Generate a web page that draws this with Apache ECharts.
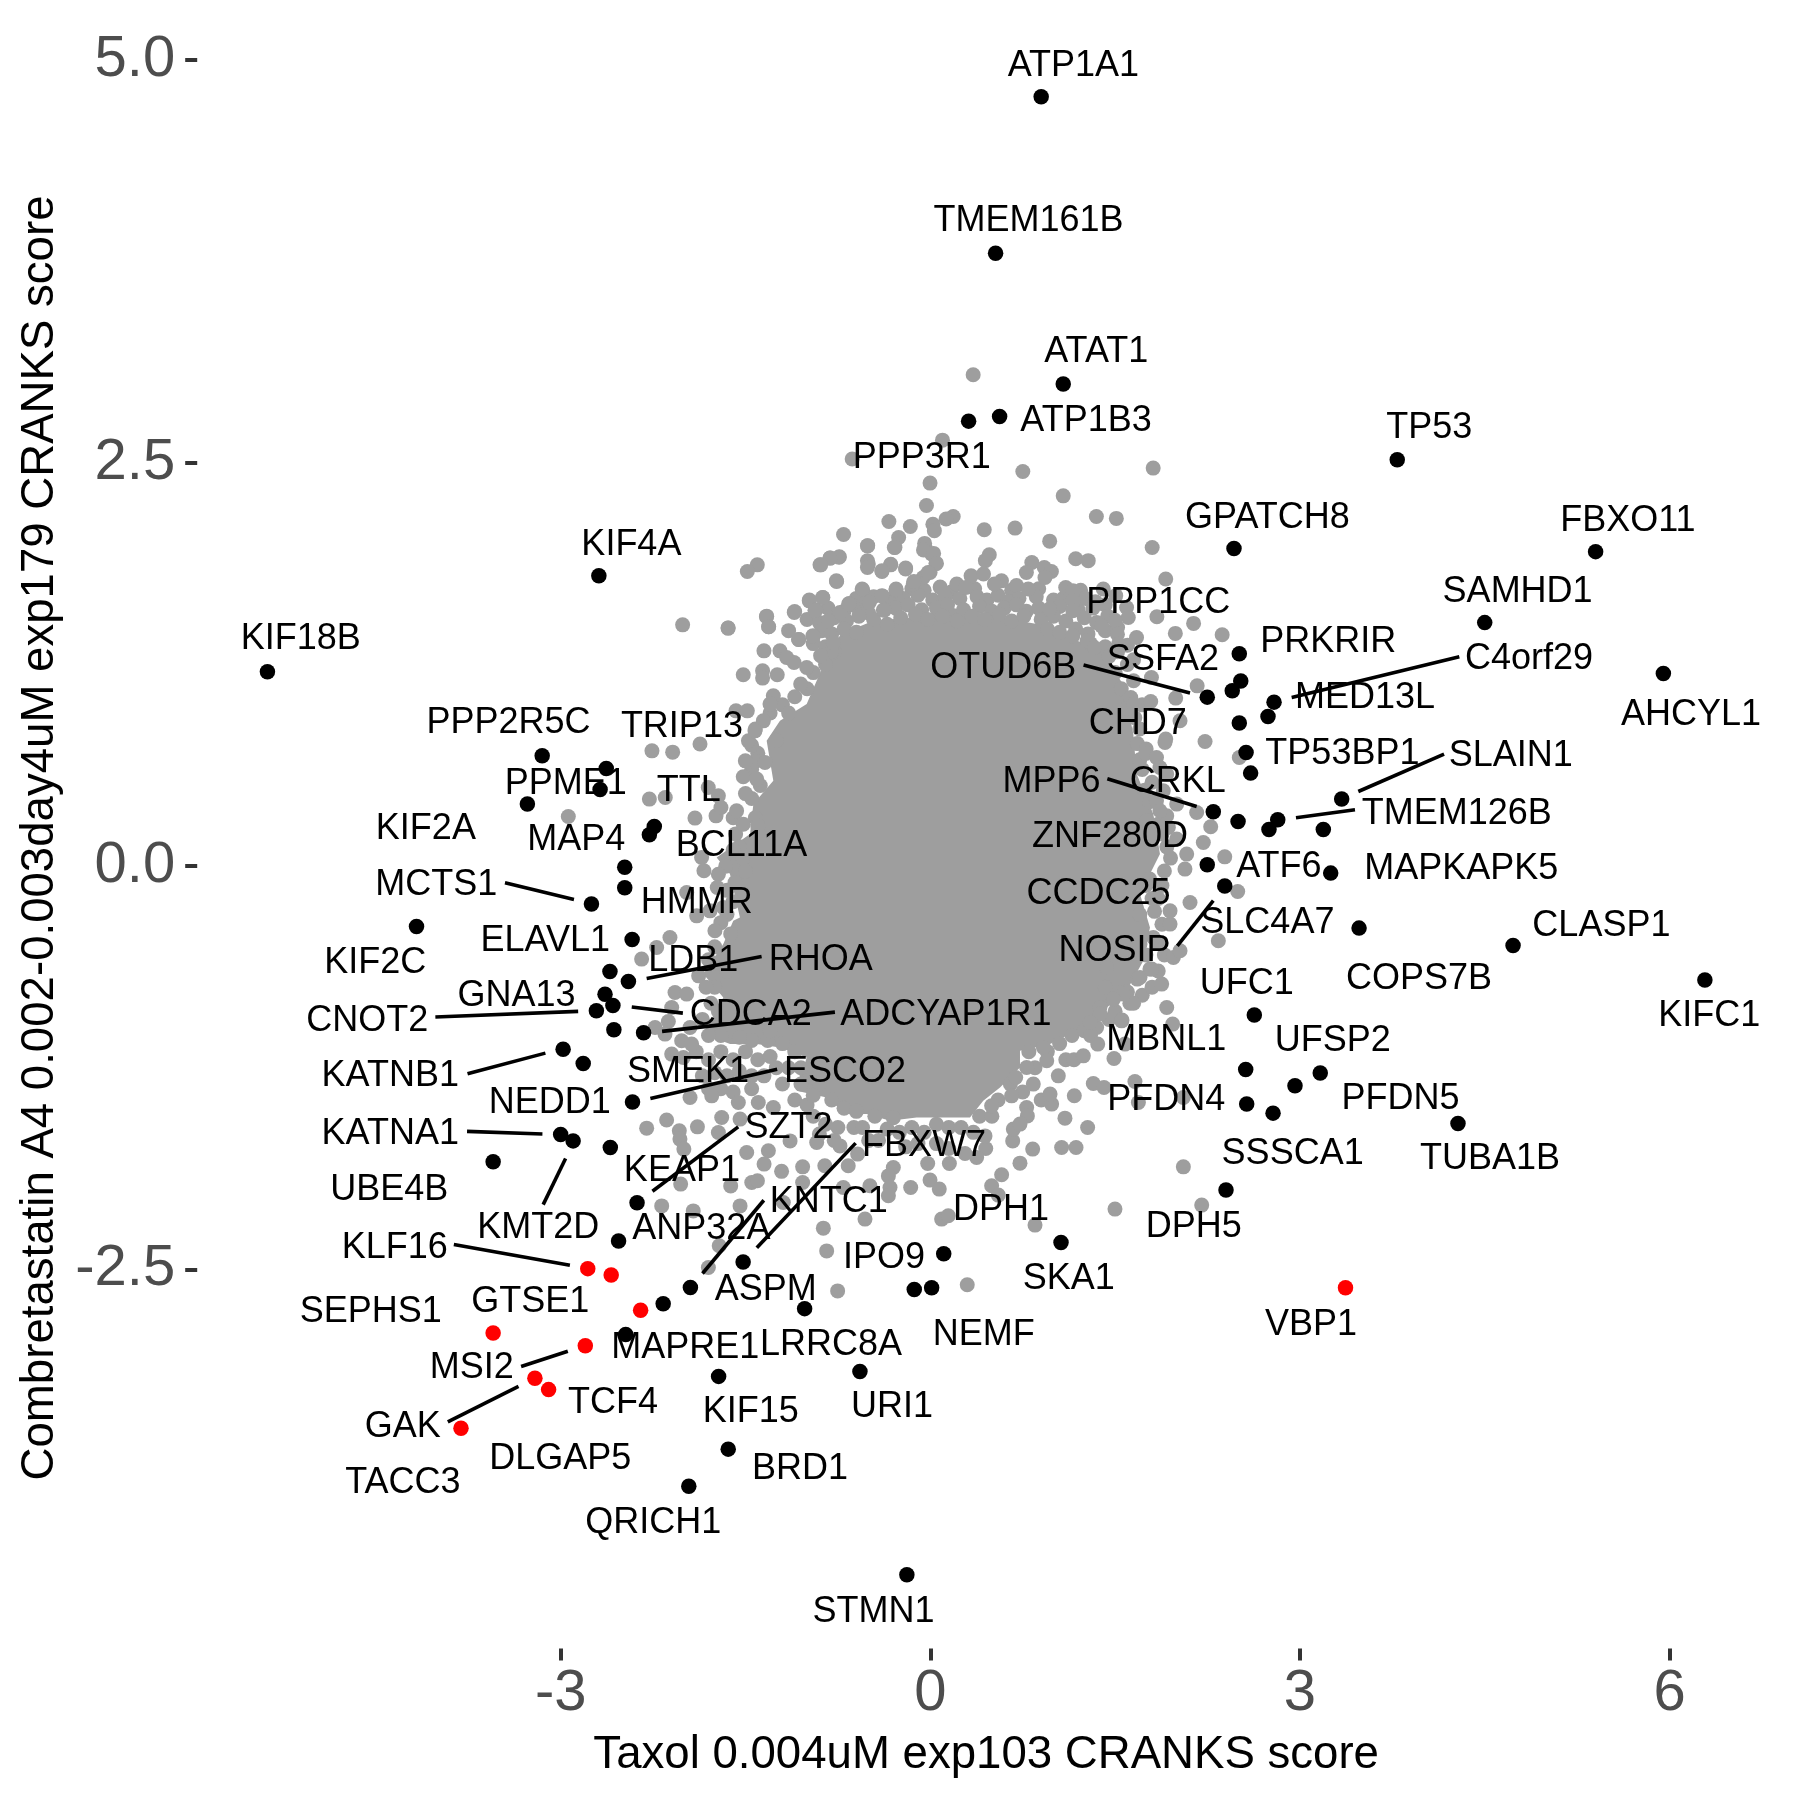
<!DOCTYPE html>
<html><head><meta charset="utf-8">
<style>html,body{margin:0;padding:0;background:#fff}#c{width:1800px;height:1800px}</style>
<script src="https://cdn.jsdelivr.net/npm/echarts@6/dist/echarts.min.js"></script>
</head><body><div id="c"></div>
<script>
const xTicks = [-3, 0, 3, 6];
const yTicks = [-2.5, 0, 2.5, 5];
const xTitle = 'Taxol 0.004uM exp103 CRANKS score';
const yTitle = 'Combretastatin A4 0.002-0.003day4uM exp179 CRANKS score';

const blackPoints = [
[0.90,4.77],[0.53,3.80],[1.079,2.989],[0.5625,2.788],[0.311,2.759],[3.79,2.52],[2.465,1.97],[5.40,1.95],[4.50,1.51],[5.95,1.195],
[-2.69,1.80],[-5.38,1.205],[-3.15,0.685],[-2.63,0.606],[-2.68,0.476],[-3.27,0.385],[-2.24,0.246],[-2.28,0.195],[-2.48,-0.006],[-2.48,-0.134],
[-2.75,-0.235],[-4.17,-0.374],[-2.42,-0.454],[-2.60,-0.653],[-2.45,-0.715],[-2.64,-0.794],[-2.576,-0.864],[-2.71,-0.896],[-2.568,-1.014],[-2.327,-1.033],
[-2.98,-1.135],[-2.817,-1.223],[-2.417,-1.462],[-3.0,-1.663],[-2.899,-1.703],[-2.597,-1.744],[-3.548,-1.833],[-2.38,-2.086],[-2.53,-2.324],[-1.519,-2.454],
[-1.947,-2.612],[-2.168,-2.713],[-2.472,-2.903],[-1.02,-2.743],[-1.718,-3.163],[-1.64,-3.614],[-1.96,-3.844],[-0.19,-4.393],[0.109,-2.403],[-0.13,-2.624],
[0.011,-2.614],[1.061,-2.333],[-0.571,-3.133],[2.508,1.317],[2.52,1.148],[2.451,1.087],[2.248,1.048],[2.79,1.017],[2.741,0.928],[2.508,0.887],
[2.563,0.705],[2.6,0.577],[3.339,0.416],[2.297,0.337],[2.498,0.277],[2.82,0.288],[2.749,0.228],[3.19,0.228],[2.248,0.009],[3.25,-0.043],
[2.39,-0.123],[3.48,-0.384],[2.63,-0.923],[4.73,-0.492],[6.287,-0.706],[3.165,-1.282],[2.56,-1.261],[2.96,-1.361],[2.568,-1.474],[2.782,-1.531],
[4.283,-1.595],[2.40,-2.008]
];

const redPoints = [
[-2.78,-2.495],[-2.59,-2.534],[-2.351,-2.753],[-3.548,-2.894],[-2.8,-2.973],[-3.209,-3.174],[-3.098,-3.245],[-3.809,-3.484],[3.37,-2.614]
];

const greyPoints = [
[-1.404,1.868],[-1.485,1.827],[-2.01,1.496],[-1.642,1.476],[-1.328,1.55],[-1.312,1.484],[-1.101,1.579],[-0.76,1.765],[-0.895,1.868],[-0.814,1.91],
[-0.738,1.918],[-1.068,1.406],[-0.949,1.426],[-0.982,1.645],[-0.874,1.666],[-0.928,1.588],[-1.35,1.335],[-1.518,1.187],[-1.361,1.211],[-1.361,1.166],
[-1.242,1.187],[-1.22,1.335],[-1.166,1.294],[-1.106,1.263],[-1.052,1.129],[-1.003,1.232],[-0.89,1.305],[-0.787,1.387],[-0.657,1.629],[-0.549,1.712],
[-0.503,1.873],[-0.508,1.987],[-0.392,1.827],[-0.322,1.868],[-0.2,1.843],[-0.278,1.712],[-0.387,1.674],[-0.381,1.588],[-0.517,1.635],[-0.733,1.573],
[-0.828,1.521],[-0.138,1.749],[-0.057,1.79],[-0.002,1.821],[0.046,1.877],[0.011,1.935],[-0.043,1.976],[-0.287,1.976],[-1.577,0.963],[-1.485,0.963],
[-1.355,0.901],[-1.274,1.056],[-1.301,1.005],[-1.476,0.777],[-1.423,0.839],[-1.869,0.757],[-2.259,0.715],[-2.091,0.707],[-1.501,0.653],[-1.342,0.643],
[-1.518,0.554],[-1.409,0.54],[-1.802,0.488],[-1.72,0.436],[-2.28,0.416],[-2.151,0.426],[-1.91,0.298],[-1.739,0.312],[-1.699,0.364],[-1.572,0.343],
[-1.518,0.26],[-1.856,0.054],[-1.837,-0.028],[-1.977,-0.163],[-1.729,-0.132],[-1.585,-0.101],[-1.896,-0.308],[-1.788,-0.277],[-1.748,-0.4],[-2.113,-0.442],
[-1.68,-0.256],[-2.938,0.308],
[0.348,3.047],[0.099,2.641],[-0.634,2.524],[0.751,2.447],[1.809,2.468],[-0.002,2.375],[1.079,2.296],[-0.031,2.236],[1.348,2.168],[1.51,2.156],
[-0.336,2.137],[-0.162,2.106],[0.186,2.168],[0.128,2.152],[0.438,2.086],[0.688,2.096],[0.969,2.015],[1.801,1.976],[0.021,2.12],[0.033,2.08],
[-0.704,2.056],[-0.51,1.986],[-0.257,2.038],[-0.292,1.976],[-0.046,2.001],[-0.055,1.96],[0.027,1.939],[0.05,1.877],[0.479,1.931],[0.447,1.894],
[1.18,1.906],[1.282,1.894],[0.824,1.883],[0.925,1.852],[0.983,1.827],[0.78,1.821],[0.931,1.79],[1.911,1.78],[-0.741,1.915],[-0.813,1.91],
[-0.889,1.868],[-0.51,1.893],[-0.51,1.852],[-0.321,1.872],[-0.393,1.831],[-0.2,1.848],[-0.017,1.821],[-0.133,1.765],[-0.762,1.769],[0.331,1.8],
[0.432,1.811],[0.578,1.769],[0.52,1.749],[0.795,1.718],[1.099,1.728],[1.157,1.707],[1.404,1.718],[1.505,1.677],[-0.553,1.718],[-0.278,1.718],
[0.215,1.749],[0.288,1.728],[-0.872,1.666],[-0.982,1.65],[-0.936,1.587],[-1.104,1.573],[-0.393,1.677],[-0.495,1.635],[-0.373,1.587],[-0.663,1.625],
[-1.33,1.547],[-1.312,1.484],[-1.64,1.476],[-0.953,1.428],[-1.069,1.406],[0.969,1.594],[1.157,1.646],[1.157,1.584],[1.593,1.604],[1.607,1.542],
[1.839,1.546],[1.39,1.49],[1.5,1.525],[2.137,1.505],[1.989,1.443],[2.369,1.435],[1.519,1.438],[1.528,1.377],[1.674,1.418],[1.157,1.428],
[1.273,1.397],[1.331,1.356],[2.166,1.118],[1.992,1.042],[1.795,1.17],[1.789,1.021],[1.627,1.046],[1.65,1.005],[2.027,0.902],[2.23,0.773],
[1.911,0.788],[1.752,0.726],
[1.748,0.699],[2.508,0.674],[1.905,0.767],[2.162,0.333],[2.276,0.244],[2.216,0.147],[2.081,0.075],[1.919,0.313],[1.932,0.24],[2.0,0.168],
[2.067,-0.018],[2.39,0.058],[2.495,-0.157],[2.108,-0.225],[1.946,-0.359],[1.946,-0.277],[2.338,-0.462],[1.973,-0.566],[2.027,-0.524],[1.878,-0.731],
[1.919,-0.876],[1.553,-0.959],[1.54,-0.783],[1.702,-0.69],[1.783,-0.638],[1.431,-0.628],[1.702,-0.483],[1.81,-0.442],[1.377,-0.876],[1.836,0.674],
[1.864,0.612],[1.919,0.571],[1.891,0.468],[1.836,0.405],[2.0,0.385],[1.864,0.344],[1.756,0.282],
[1.967,-0.979],[1.556,-0.954],[1.359,-1.103],[1.58,-1.103],[1.491,-1.192],[1.166,-1.2],[1.242,-1.176],[1.323,-1.347],[1.41,-1.372],[1.661,-1.335],
[1.689,-1.465],[2.054,-1.434],[1.169,-1.423],[0.985,-1.475],[1.093,-1.562],[1.277,-1.62],[1.066,-1.744],[1.183,-1.744],[0.831,-1.754],[0.728,-1.841],
[0.579,-1.913],[0.498,-1.981],[0.552,-2.039],[0.669,-1.703],[2.054,-1.864],[1.499,-2.126],[2.203,-2.101],[0.85,-2.225],[0.693,-1.31],[0.782,-1.496],
[0.788,-1.548],[0.674,-1.63],[0.728,-1.599],[0.66,-1.424],[0.972,-1.413],[1.039,-1.3],[0.836,-1.351],[0.945,-1.206],[0.782,-1.248],[0.918,-1.124],
[0.444,-1.672],[0.376,-1.806],[0.282,-1.781],[0.498,-1.485],[1.797,-0.638],[1.567,-0.793],[1.486,-0.824],[1.378,-0.917],[1.296,-0.969],
[-2.221,-0.504],[-2.343,-0.576],[-2.072,-0.783],[-1.977,-0.793],[-2.099,-0.876],[-2.126,-0.963],[-2.234,-1.0],[-2.153,-1.041],[-2.018,-1.082],[-1.937,-1.103],
[-2.099,-1.165],[-2.004,-1.186],[-1.95,-1.434],[-1.774,-1.424],[-1.558,-1.465],[-1.396,-1.465],[-1.274,-1.496],[-2.14,-1.574],[-2.302,-1.624],[-2.037,-1.64],
[-1.89,-1.616],[-2.032,-1.692],[-2.0,-1.754],[-1.693,-1.558],[-1.72,-1.651],[-1.544,-1.568],[-1.49,-1.775],[-1.314,-1.764],[-1.349,-1.847],[-1.138,-1.703],
[-0.922,-1.713],[-1.207,-1.892],[-1.036,-1.864],[-0.856,-1.857],[-0.666,-1.857],[-0.733,-1.734],[-0.59,-1.785],[-0.42,-1.7],[-0.3,-1.868],[-0.34,-1.92],
[-0.327,-1.992],[-0.34,-2.043],[-0.159,-1.992],[-0.021,-1.843],[0.155,-1.843],[-0.002,-1.946],[0.073,-2.002],[0.092,-2.188],[0.146,-2.167],[-0.53,-2.188],
[-0.868,-2.244],[-0.49,-1.981],[-0.706,-1.992],[-1.036,-1.961],[-1.544,-2.106],[-1.924,-2.137],[-2.18,-2.106],[-2.026,-1.971],[-1.62,-1.982],[-1.449,-1.961],
[-1.403,-1.95],[-1.193,-2.085],[-0.841,-2.385],[-0.752,-2.633],[0.3,-2.595],[-1.801,-2.488],[-1.713,-2.353]
];

// Dense band of grey points around the solid mass, read by eye
const greyRim = [
[-0.15,1.72],[-0.05,1.71],[0.08,1.73],[0.17,1.7],[0.36,1.72],[0.66,1.71],[0.7,1.74],[0.88,1.72],[1.22,1.71],
[-0.6,1.66],[-0.46,1.67],[-0.33,1.65],[-0.22,1.66],[-0.1,1.68],[0.02,1.65],[0.12,1.67],[0.24,1.66],[0.38,1.67],[0.46,1.65],[0.55,1.68],[0.63,1.64],[0.72,1.66],[0.86,1.67],[1.0,1.65],[1.08,1.66],[1.26,1.66],[1.34,1.64],
[-0.83,1.6],[-0.7,1.58],[-0.6,1.61],[-0.5,1.57],[-0.28,1.6],[-0.18,1.62],[-0.07,1.59],[0.05,1.6],[0.14,1.62],[0.27,1.59],[0.4,1.61],[0.5,1.58],[0.6,1.6],[0.7,1.62],[0.78,1.58],[0.88,1.6],[1.05,1.61],[1.2,1.59],[1.32,1.6],[1.42,1.62],
[-1.0,1.53],[-0.9,1.51],[-0.78,1.54],[-0.68,1.52],[-0.58,1.55],[-0.46,1.53],[-0.35,1.5],[-0.24,1.54],[-0.12,1.56],[-0.02,1.53],[0.1,1.55],[0.22,1.52],[0.34,1.55],[0.44,1.53],[0.56,1.56],[0.66,1.52],[0.76,1.55],[0.9,1.53],[1.0,1.55],[1.1,1.52],[1.25,1.54],[1.35,1.51],[1.44,1.55],
[-1.15,1.46],[-0.88,1.46],[-0.8,1.44],[-0.7,1.47],[-0.6,1.45],[0.95,1.47],[1.05,1.45],[1.18,1.47],[1.28,1.44],[1.42,1.46],[1.52,1.48],
[-0.95,1.38],[-0.85,1.36],[-0.78,1.33],[1.3,1.38],[1.42,1.36],[1.5,1.33],[1.6,1.37],
[-1.3,0.95],[-1.2,1.0],[-1.1,1.05],[-1.0,1.1],[-0.95,1.2],[-0.85,1.25],[-0.8,1.33],[-1.15,0.95],[-1.4,0.7],[-1.45,0.6],[-1.38,0.5],[-1.45,0.42],[-1.58,0.2],[-1.6,0.3],[-1.55,0.12],[-1.66,0.0],[-1.72,-0.05],[-1.65,-0.15],[-1.6,-0.22],[-1.75,-0.5],[-1.8,-0.58],[-1.88,-0.68],[-1.75,-0.75],[-1.78,-0.85],[-1.85,-0.95],[-1.95,-1.0],[-1.72,-0.9],
[-1.45,0.75],[-1.42,0.65],[-1.5,0.45],[-1.42,0.3],[-1.4,0.25],[-1.6,0.1],[-1.52,0.05],[-1.5,-0.03],[-1.42,0.85],[-1.25,0.78],[-1.65,-0.3],[-1.7,-0.35],[-1.62,-0.42],[-1.72,-0.6],[-1.65,-0.65],[-1.82,-0.75],
[-1.9,-1.15],[-1.8,-1.2],[-1.7,-1.15],[-1.6,-1.2],[-1.5,-1.15],[-1.4,-1.2],[-1.3,-1.18],[-1.85,-1.3],[-1.75,-1.28],[-1.65,-1.3],[-1.55,-1.27],[-1.45,-1.3],[-1.35,-1.3],[-1.25,-1.25],[-1.8,-1.38],[-1.7,-1.38],[-1.6,-1.4],[-1.45,-1.38],[-1.2,-1.35],[-1.15,-1.25],[-1.1,-1.45],[-1.0,-1.48],[-0.95,-1.55],[-0.85,-1.6],[-0.75,-1.62],[-0.9,-1.66],[-0.78,-1.7],[-0.62,-1.62],[-0.55,-1.62],[-0.5,-1.7],[-0.35,-1.63],[-0.25,-1.65],[-0.15,-1.62],[-0.05,-1.65],[0.05,-1.6],[0.15,-1.62],[0.25,-1.62],[0.35,-1.65],[0.4,-1.55],[0.5,-1.55],[0.55,-1.45],[0.65,-1.35],[0.45,-1.75],[-0.2,-1.74],[-0.1,-1.72],[0.05,-1.72],[0.15,-1.75],
[-1.0,-1.3],[-0.9,-1.35],[-0.95,-1.42],[-0.8,-1.45],[-0.7,-1.5],[-0.6,-1.52],[-0.45,-1.55],[-0.3,-1.56],[-1.1,-1.15],[-1.2,-1.1],[-1.32,-1.08],[-1.45,-1.08],[-1.55,-1.06],[-1.7,-1.05],[-1.8,-1.05],[-1.05,-1.25],[-1.05,-1.35],[-1.3,-1.02],
[0.8,-1.15],[0.85,-1.25],[0.95,-1.15],[1.05,-1.1],[1.15,-1.05],[1.25,-1.02],[1.35,-1.0],[1.1,-1.2],[0.75,-1.4],[0.9,-1.45],
[1.5,-0.9],[1.62,-0.85],[1.72,-0.8],[1.8,-0.75],[1.85,-0.65],[1.9,-0.55],[1.85,-0.48],[1.88,-0.36],[1.82,-0.28],[1.8,-0.2],[1.88,-0.12],[1.78,-0.08],[1.9,-0.03],[1.95,0.05],[1.92,0.12],[1.88,0.2],[1.85,0.26],[1.78,0.4],[1.74,0.47],[1.8,0.52],[1.72,0.6],[1.7,0.66],[1.68,0.76],[1.7,0.85],[1.66,0.92],[1.6,0.98],[1.72,1.0],[1.55,1.1],[1.65,1.15],[1.5,1.2],[1.6,1.25],[1.45,1.3],[1.52,1.33],[1.65,1.28],
[1.75,-0.55],[1.68,-0.7],[1.6,-0.78],[1.45,-0.95],[1.3,-1.05],[1.7,-0.3],[1.85,-0.2],[1.75,-0.12],[1.65,-0.85],[1.42,-0.75]
];

// Outline of the region where grey points overlap into a solid mass
const coreOutline = [
[-0.727,1.438],[-0.462,1.521],[-0.147,1.542],[0.187,1.6],[0.5,1.55],[0.867,1.501],[1.389,1.336],[1.563,1.129],[1.648,0.819],[1.675,0.571],[1.81,0.323],[1.864,0.075],
[1.702,-0.173],[1.783,-0.38],[1.729,-0.587],[1.594,-0.773],[1.242,-1.0],[0.972,-1.103],[0.728,-1.144],[0.728,-1.248],[0.566,-1.372],[0.43,-1.454],[0.322,-1.558],
[-0.111,-1.558],[-0.327,-1.578],[-0.516,-1.537],[-0.679,-1.537],[-0.841,-1.434],[-1.085,-1.392],[-1.003,-1.186],[-1.22,-1.124],[-1.409,-1.103],[-1.625,-1.103],[-1.842,-1.041],
[-1.68,-0.814],[-1.842,-0.669],[-1.68,-0.483],[-1.599,-0.339],[-1.545,-0.318],[-1.626,-0.049],[-1.734,0.054],[-1.463,0.199],[-1.436,0.385],[-1.274,0.53],[-1.328,0.777],[-1.22,0.901],[-1.003,1.005],[-0.841,1.294]
];

const geneLabels = [
['ATP1A1',1.161,4.967],['TMEM161B',0.798,4.006],['ATAT1',1.347,3.194],['ATP1B3',1.264,2.767],['PPP3R1',-0.069,2.54],['TP53',4.05,2.725],['GPATCH8',2.736,2.169],['FBXO11',5.662,2.148],
['KIF4A',-2.426,1.999],['SAMHD1',4.767,1.707],['PPP1CC',1.851,1.643],['PRKRIR',3.23,1.401],['KIF18B',-5.11,1.415],['C4orf29',4.86,1.294],['SSFA2',1.888,1.287],['OTUD6B',0.593,1.237],
['MED13L',3.528,1.052],['AHCYL1',6.174,0.945],['CHD7',1.683,0.888],['PPP2R5C',-3.423,0.895],['TRIP13',-2.016,0.874],['TP53BP1',3.345,0.703],['SLAIN1',4.711,0.689],['PPME1',-2.958,0.518],
['MPP6',0.984,0.532],['CRKL',2.009,0.532],['TTL',-1.96,0.475],['TMEM126B',4.273,0.333],['KIF2A',-4.094,0.241],['ZNF280D',1.459,0.191],['MAP4',-2.874,0.169],['BCL11A',-1.532,0.134],
['ATF6',2.829,0.006],['MAPKAPK5',4.31,-0.009],['MCTS1',-4.01,-0.108],['CCDC25',1.366,-0.165],['HMMR',-1.895,-0.222],['SLC4A7',2.736,-0.343],['CLASP1',5.447,-0.364],['ELAVL1',-3.125,-0.457],
['NOSIP',1.496,-0.514],['LDB1',-1.923,-0.578],['RHOA',-0.889,-0.571],['KIF2C',-4.504,-0.592],['COPS7B',3.966,-0.692],['UFC1',2.568,-0.72],['GNA13',-3.358,-0.799],['CDCA2',-1.457,-0.912],
['ADCYAP1R1',0.127,-0.912],['CNOT2',-4.57,-0.948],['KIFC1',6.323,-0.92],['MBNL1',1.916,-1.069],['UFSP2',3.267,-1.076],['ESCO2',-0.693,-1.268],['SMEK1',-1.967,-1.268],['KATNB1',-4.383,-1.29],
['PFDN5',3.817,-1.432],['PFDN4',1.916,-1.439],['NEDD1',-3.088,-1.46],['SZT2',-1.15,-1.617],['KATNA1',-4.383,-1.653],['FBXW7',-0.05,-1.724],['SSSCA1',2.941,-1.774],['TUBA1B',4.543,-1.809],
['KEAP1',-2.016,-1.88],['UBE4B',-4.392,-2.001],['KNTC1',-0.824,-2.073],['DPH1',0.574,-2.122],['KMT2D',-3.181,-2.236],['DPH5',2.139,-2.229],['ANP32A',-1.858,-2.243],['KLF16',-4.346,-2.357],
['IPO9',-0.376,-2.421],['SKA1',1.124,-2.549],['ASPM',-1.336,-2.621],['GTSE1',-3.246,-2.692],['SEPHS1',-4.542,-2.756],['VBP1',3.09,-2.834],['NEMF',0.434,-2.898],['MAPRE1',-1.988,-2.977],
['LRRC8A',-0.805,-2.962],['MSI2',-3.722,-3.105],['TCF4',-2.575,-3.318],['KIF15',-1.457,-3.375],['URI1',-0.311,-3.347],['GAK',-4.281,-3.468],['DLGAP5',-3.004,-3.667],['BRD1',-1.057,-3.731],
['TACC3',-4.281,-3.816],['QRICH1',-2.249,-4.065],['STMN1',-0.46,-4.614]
];

const connectors = [
[1.244,1.247,2.108,1.073],[2.933,1.046,4.294,1.298],[3.474,0.463,4.17,0.695],[2.968,0.3,3.447,0.35],[1.437,0.542,2.162,0.37],[2.005,-0.494,2.297,-0.214],
[-3.452,-0.103,-2.892,-0.206],[-2.302,-0.696,-1.369,-0.56],[-4.017,-0.935,-2.858,-0.9],[-2.423,-0.873,-2.008,-0.911],[-2.177,-1.024,-0.774,-0.905],[-3.756,-1.287,-3.124,-1.159],
[-2.272,-1.441,-1.243,-1.259],[-3.76,-1.644,-3.148,-1.66],[-2.96,-1.812,-3.142,-2.098],[-2.255,-2.015,-1.559,-1.616],[-1.849,-2.525,-1.351,-2.071],[-1.408,-2.365,-0.606,-1.717],
[-3.867,-2.346,-2.925,-2.474],[-3.321,-3.102,-2.942,-3.007],[-3.916,-3.445,-3.342,-3.225]
];

const GREY = '#9E9E9E';
const FONT = '"Liberation Sans", Arial, Helvetica, sans-serif';
const chart = echarts.init(document.getElementById('c'), null, {renderer:'canvas'});

const axisCommon = {
  type:'value', splitLine:{show:false},
  axisLine:{show:false, onZero:false},
  nameLocation:'middle'
};
chart.setOption({
  animation:false,
  backgroundColor:'#fff',
  grid:{left:197.2,right:31.9,top:27.4,bottom:151.5,containLabel:false},
  xAxis:Object.assign({},axisCommon,{
    min:-5.95,max:6.8,name:xTitle,nameGap:84,
    nameTextStyle:{fontFamily:FONT,fontSize:45.6,color:'#000',padding:[0,0,0,7]},
    axisTick:{show:true,length:12,lineStyle:{color:'#333',width:4},customValues:xTicks},
    axisLabel:{show:true,customValues:xTicks,margin:16,fontFamily:FONT,fontSize:58,color:'#4D4D4D',formatter:v=>String(v)}
  }),
  yAxis:Object.assign({},axisCommon,{
    min:-4.85,max:5.2,name:yTitle,nameGap:134,
    nameTextStyle:{fontFamily:FONT,fontSize:45.6,color:'#000'},
    axisTick:{show:true,length:12,lineStyle:{color:'#333',width:4},customValues:yTicks},
    axisLabel:{show:true,customValues:yTicks,margin:22,padding:[4,0,0,0],fontFamily:FONT,fontSize:58,color:'#4D4D4D',formatter:v=>v.toFixed(1)}
  }),
  series:[
    {type:'custom',silent:true,coordinateSystem:'cartesian2d',data:coreOutline,z:1,
      renderItem:(p,api)=> p.dataIndex!==0?null:({type:'polygon',shape:{points:coreOutline.map(c=>api.coord(c))},style:{fill:GREY}})},
    {type:'scatter',silent:true,data:greyRim,symbolSize:15,itemStyle:{color:GREY,opacity:1},z:2},
    {type:'scatter',silent:true,data:greyPoints,symbolSize:15,itemStyle:{color:GREY,opacity:1},z:2},
    {type:'scatter',silent:true,data:blackPoints,symbolSize:15.5,itemStyle:{color:'#000',opacity:1},z:3},
    {type:'scatter',silent:true,data:redPoints,symbolSize:15.5,itemStyle:{color:'#FF0000',opacity:1},z:3},
    {type:'custom',silent:true,coordinateSystem:'cartesian2d',data:connectors,z:4,
      renderItem:(p,api)=>{
        const a=api.coord([api.value(0),api.value(1)]),b=api.coord([api.value(2),api.value(3)]);
        return {type:'line',shape:{x1:a[0],y1:a[1],x2:b[0],y2:b[1]},style:{stroke:'#000',lineWidth:3.6}};
      }},
    {type:'custom',silent:true,coordinateSystem:'cartesian2d',z:5,
      data:geneLabels.map(l=>[l[1],l[2]]),
      renderItem:(p,api)=>{
        const c=api.coord([api.value(0),api.value(1)]);
        return {type:'text',z2:10,style:{x:c[0],y:c[1]+1.5,text:geneLabels[p.dataIndex][0],fill:'#000',font:'36px '+FONT,align:'center',verticalAlign:'middle'}};
      }}
  ]
});
</script></body></html>
